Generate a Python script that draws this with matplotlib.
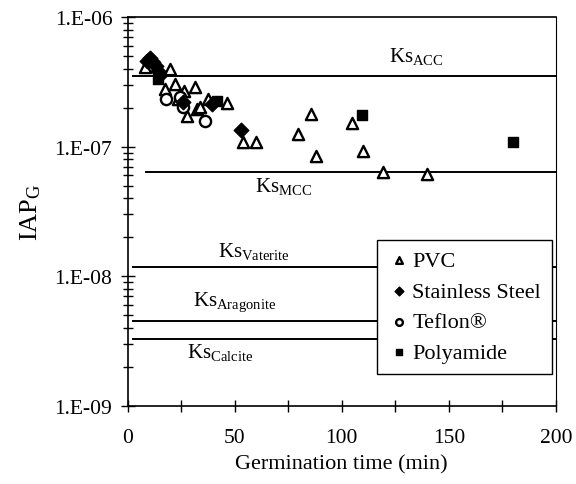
import math
import matplotlib
matplotlib.use('Agg')
import matplotlib.pyplot as plt
from matplotlib.ticker import FixedLocator, LogLocator, NullFormatter, FuncFormatter

plt.rcParams['font.family'] = ['Liberation Serif', 'DejaVu Serif']
plt.rcParams['mathtext.fontset'] = 'custom'
plt.rcParams['mathtext.rm'] = 'Liberation Serif'
plt.rcParams['mathtext.it'] = 'Liberation Serif:italic'

# germination time (min) and IAP_G per surface material
pvc_t = [8.1, 19.8, 17.4, 22.1, 23.5, 27.7, 26.3, 31.4, 32.4, 33.8, 37.5, 46.4,
         53.9, 59.9, 79.6, 85.7, 88.0, 104.8, 109.9, 119.3, 139.9]
pvc_iap = [4.1e-7, 3.97e-7, 2.78e-7, 3.04e-7, 2.33e-7, 1.73e-7, 2.69e-7, 2.88e-7,
           1.95e-7, 2.02e-7, 2.33e-7, 2.17e-7, 1.09e-7, 1.09e-7, 1.25e-7, 1.79e-7,
           8.5e-8, 1.52e-7, 9.3e-8, 6.4e-8, 6.2e-8]

steel_t = [9.0, 10.4, 11.8, 13.2, 14.2, 15.1, 25.8, 39.4, 52.9]
steel_iap = [4.58e-7, 4.83e-7, 4.5e-7, 4.19e-7, 3.83e-7, 3.57e-7, 2.21e-7, 2.13e-7, 1.35e-7]

teflon_t = [17.9, 24.4, 25.8, 36.1]
teflon_iap = [2.33e-7, 2.42e-7, 2.02e-7, 1.58e-7]

polyamide_t = [14.2, 41.7, 109.5, 180.1]
polyamide_iap = [3.33e-7, 2.25e-7, 1.75e-7, 1.09e-7]

# solubility products (horizontal lines)
ks_names = ['ACC', 'MCC', 'Vaterite', 'Aragonite', 'Calcite']
ks_values = [3.5e-7, 6.4e-8, 1.18e-8, 4.5e-9, 3.3e-9]
ks_start = [2.5, 8.5, 2.5, 2.5, 2.5]
ks_label_x = [135, 73, 59, 50, 43]
ks_label_y = [5.0e-7, 4.98e-8, 1.57e-8, 6.45e-9, 2.61e-9]

fig = plt.figure(figsize=(5.76, 4.85), dpi=100)
ax = fig.add_axes([0.2217, 0.161, 0.7433, 0.802])

for name, val, x0, lx, ly in zip(ks_names, ks_values, ks_start, ks_label_x, ks_label_y):
    ax.plot([x0, 200], [val, val], color='black', lw=1.4, zorder=1)
    ax.text(lx, ly, r'Ks$_{\mathrm{' + name + '}}$', fontsize=15,
            ha='center', va='center')

ax.scatter(pvc_t, pvc_iap, marker='^', s=65, facecolor='white', edgecolor='black',
           linewidths=1.7, label='PVC', zorder=3)
ax.scatter(steel_t, steel_iap, marker='D', s=55, color='black',
           label='Stainless Steel', zorder=4)
ax.scatter(teflon_t, teflon_iap, marker='o', s=65, facecolor='white', edgecolor='black',
           linewidths=1.7, label='Teflon®', zorder=3)
ax.scatter(polyamide_t, polyamide_iap, marker='s', s=50, color='black',
           label='Polyamide', zorder=4)

ax.set_yscale('log')
ax.set_xlim(0, 200)
ax.set_ylim(1e-9, 1e-6)

ax.xaxis.set_major_locator(FixedLocator([0, 50, 100, 150, 200]))
ax.xaxis.set_minor_locator(FixedLocator([25, 75, 125, 175]))
ax.yaxis.set_major_locator(LogLocator(base=10, numticks=10))
ax.yaxis.set_minor_locator(LogLocator(base=10, subs=range(2, 10), numticks=30))
ax.yaxis.set_minor_formatter(NullFormatter())
ax.yaxis.set_major_formatter(FuncFormatter(lambda v, p: '1.E-%02d' % round(-math.log10(v))))

ax.tick_params(axis='both', which='both', direction='inout', labelsize=15.5, width=1)
ax.tick_params(axis='x', which='both', length=8, pad=12)
ax.tick_params(axis='y', which='major', length=10, pad=6)
ax.tick_params(axis='y', which='minor', length=7)

for side in ['left', 'bottom', 'top']:
    ax.spines[side].set_linewidth(1.2)
ax.spines['right'].set_linewidth(0.8)

ax.set_xlabel('Germination time (min)', fontsize=16, labelpad=5)
ax.set_ylabel(r'IAP$_{\mathrm{G}}$', fontsize=19, labelpad=8)

leg = ax.legend(loc='lower right', bbox_to_anchor=(0.991, 0.082), borderaxespad=0,
                fontsize=16, frameon=True, fancybox=False, edgecolor='black',
                framealpha=1, markerscale=0.6, handletextpad=0.1, handlelength=1.0,
                labelspacing=0.45, borderpad=0.5)
leg.get_frame().set_linewidth(1.0)

fig.savefig('out.png', dpi=100)
